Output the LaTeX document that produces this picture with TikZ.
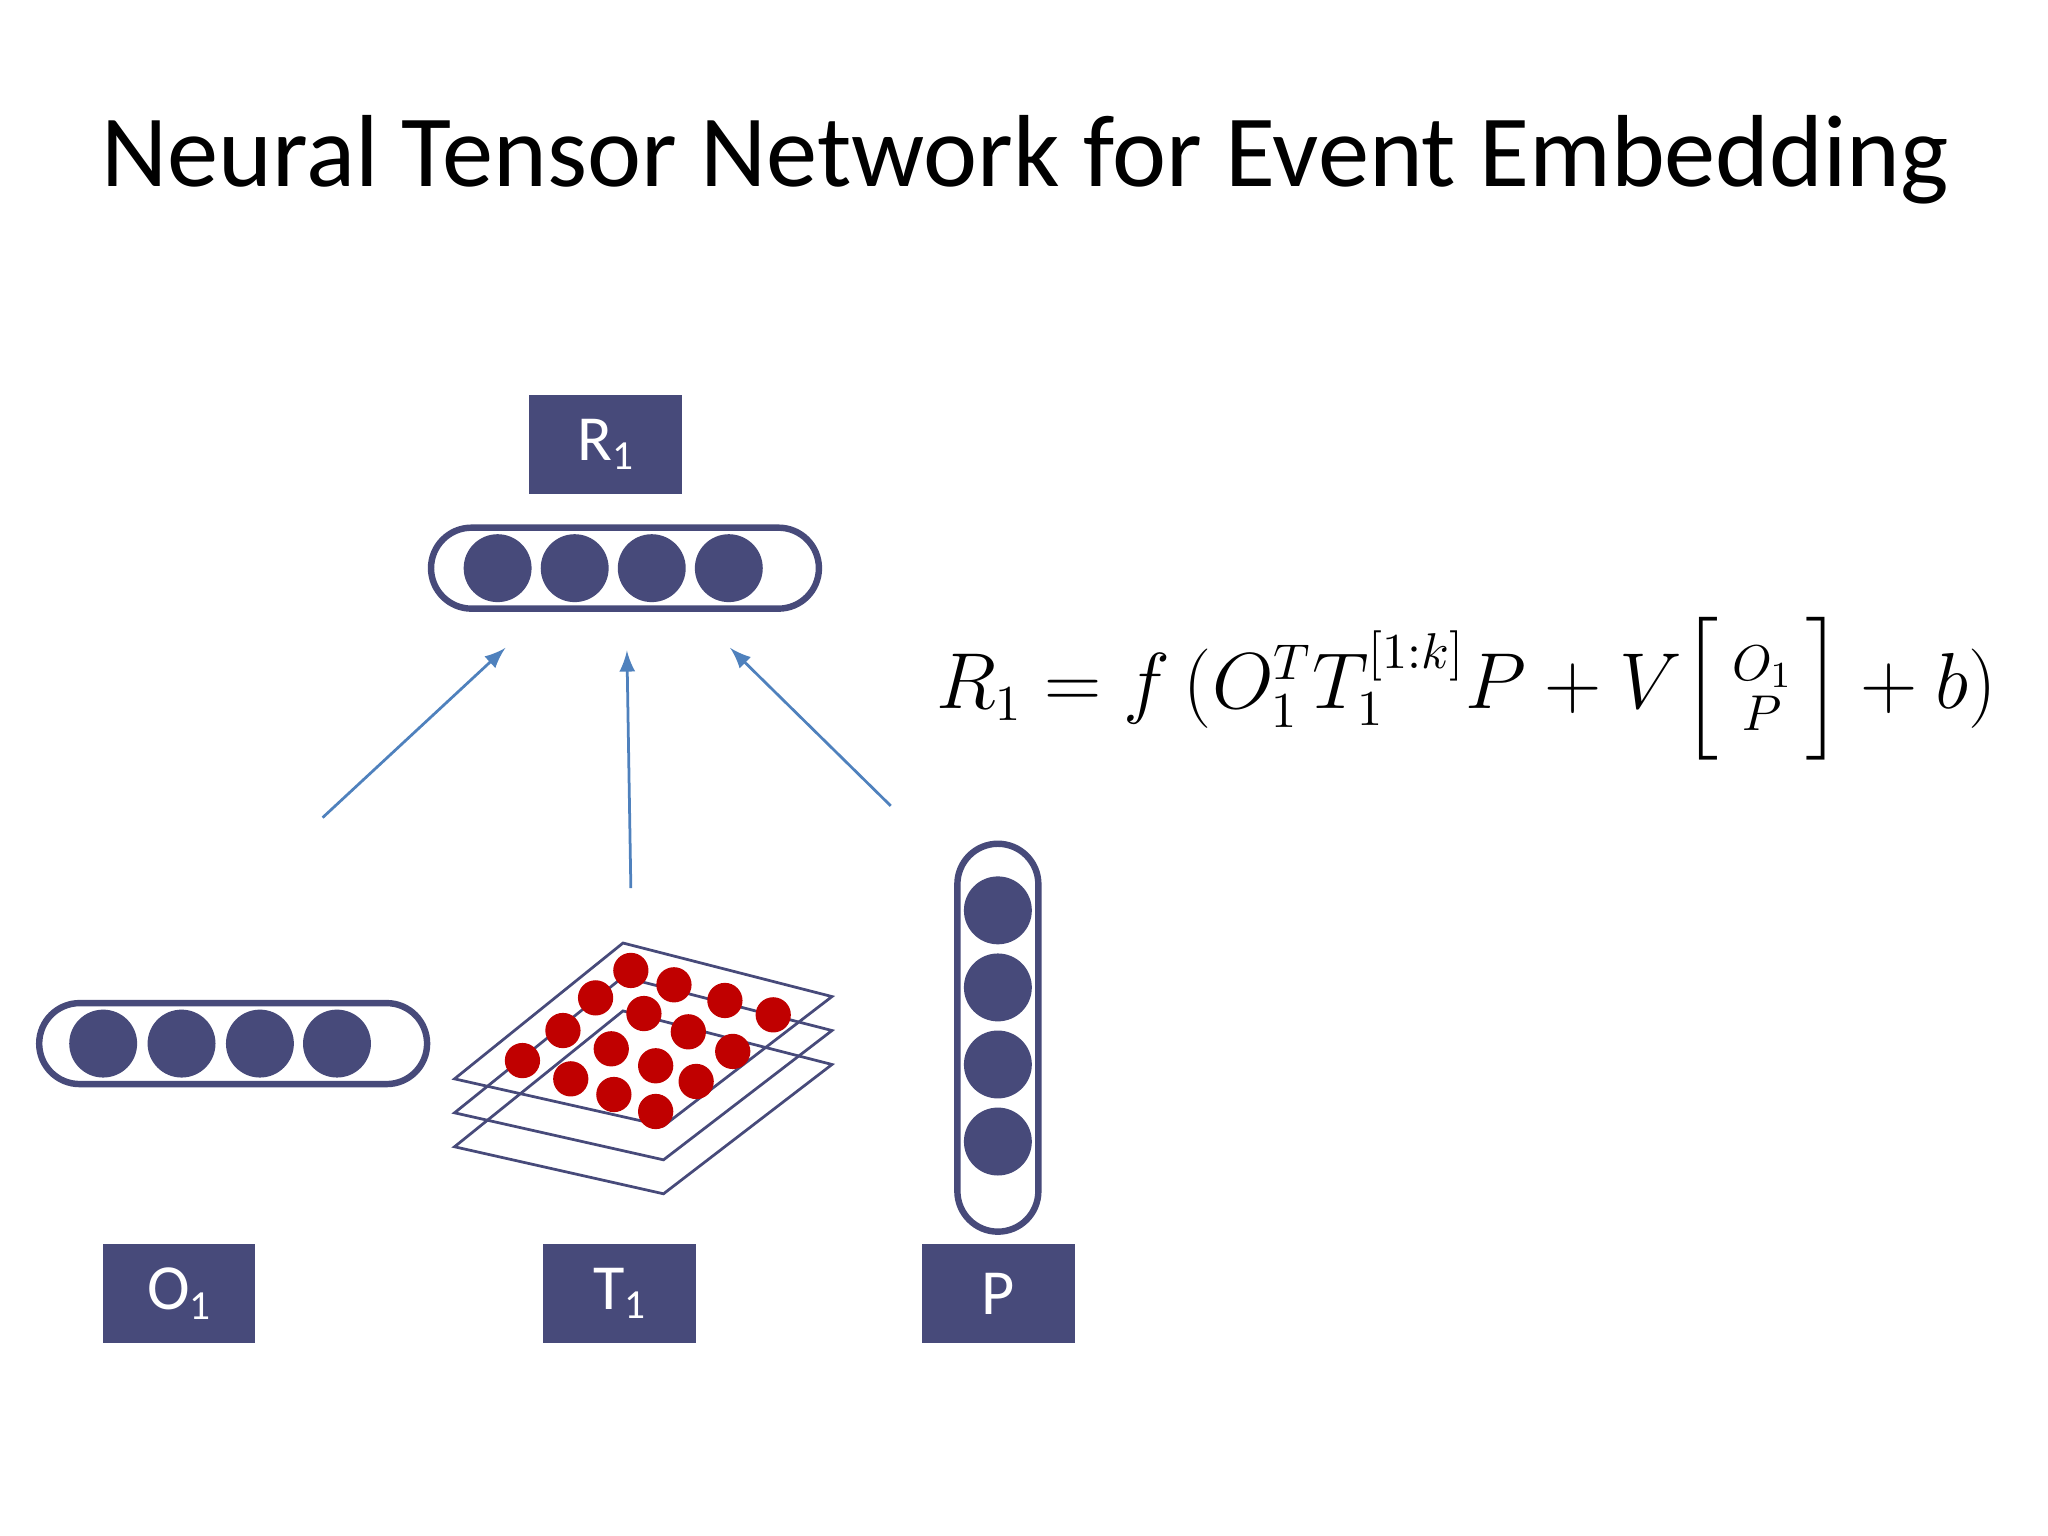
\documentclass[tikz,border=0pt]{standalone}
\usepackage{amsmath}
\usepackage{fontspec}
\setsansfont{Carlito}
\begin{document}
\begin{tikzpicture}[x=0.01cm,y=-0.01cm,
  box/.style={fill=boxc,draw=none,minimum width=117*0.01cm,minimum height=76*0.01cm,text=white,font=\sffamily\fontsize{14}{16}\selectfont},
  vec/.style={draw=boxc,line width=1.4pt,rounded corners=31*0.01cm,fill=white},
  neu/.style={fill=boxc,draw=none},
  red/.style={fill=redc,draw=none},
  sheet/.style={draw=boxc,line width=0.6pt},
  arr/.style={draw=arrc,line width=0.6pt,-latex}]
\definecolor{boxc}{HTML}{474A7A}
\definecolor{redc}{HTML}{C00000}
\definecolor{arrc}{HTML}{4F81BD}
\useasboundingbox (0,0) rectangle (1568,1176);
\node[font=\sffamily\fontsize{22.3}{25}\selectfont] (title) at (785,122) {Neural Tensor Network for Event Embedding};
% R1
\node[box] (R) at (463.5,340.5) {R{\fontsize{9}{10}\selectfont\raisebox{-2pt}{1}}};
\draw[vec] (330,404) rectangle (627,466);
\foreach \x in {381,440,499,558} \fill[neu] (\x,435) circle (26);
% O1 vector
\draw[vec] (30,768) rectangle (327,830);
\foreach \x in {79,139,199,258} \fill[neu] (\x,799) circle (26);
% P vector
\draw[vec] (733,646) rectangle (795,943);
\foreach \y in {697,756,815,874} \fill[neu] (764,\y) circle (26);
% tensor sheets
\foreach \d in {52,26,0}
  \draw[sheet] (348,826+\d) -- (477,722+\d) -- (637,763+\d) -- (508,862+\d) -- cycle;
\foreach \p in {(483,743),(516,754),(555,766),(592,777),(456,764),(493,776),(527,790),(561,805),(431,789),(468,803),(502,816),(533,828),(400,812),(437,826),(470,838),(502,851)}
  \fill[red] \p circle (13.5);
% boxes
\node[box] (O) at (137,990.5) {O{\fontsize{9}{10}\selectfont\raisebox{-2pt}{1}}};
\node[box] (T) at (474.5,990.5) {T{\fontsize{9}{10}\selectfont\raisebox{-2pt}{1}}};
\node[box] (P) at (764.5,990.5) {P};
% arrows
\coordinate (a1) at (247,626); \coordinate (b1) at (387,496);
\coordinate (a2) at (483,680); \coordinate (b2) at (480,498);
\coordinate (a3) at (682,617); \coordinate (b3) at (559,496);
\draw[arr] (a1) -- (b1);
\draw[arr] (a2) -- (b2);
\draw[arr] (a3) -- (b3);
% formula
\node[anchor=west,font=\fontsize{16}{19}\selectfont,inner sep=0pt] (f) at (716,527)
  {$R_1 = f\,(O_1^T T_1^{[1:k]}P+V\Bigl[\begin{smallmatrix}O_1\\ P\end{smallmatrix}\Bigr]+b)$};
\end{tikzpicture}
\end{document}
